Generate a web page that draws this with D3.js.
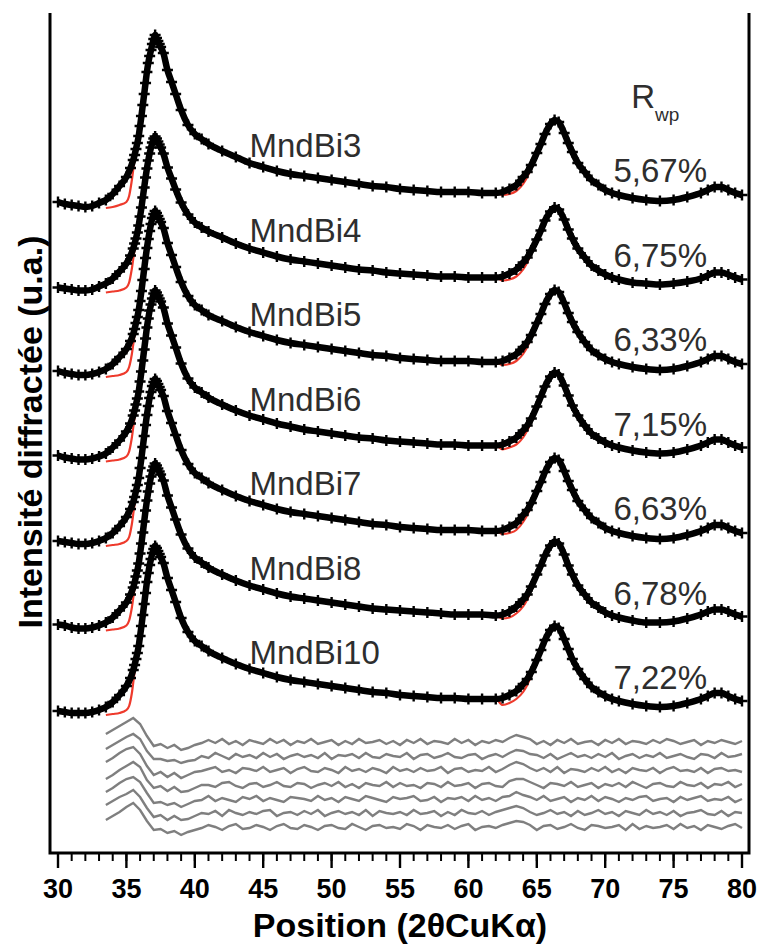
<!DOCTYPE html>
<html><head><meta charset="utf-8">
<script src="https://cdn.jsdelivr.net/npm/d3@7"></script>
<style>html,body{margin:0;padding:0;background:#fff;} svg{display:block;}</style>
</head><body>
<svg id="chart" width="760" height="944"></svg>
<script>
// ---------- DATA ----------
const seriesNames = ["MndBi3","MndBi4","MndBi5","MndBi6","MndBi7","MndBi8","MndBi10"];
const rwpLabels = ["5,67%","6,75%","6,33%","7,15%","6,63%","6,78%","7,22%"];
const xTicks = [30,35,40,45,50,55,60,65,70,75,80];
const xMinorTicks = d3.range(30, 81, 1);

// 2theta positions of the observed points
const angles = [30,30.5,31,31.5,32,32.5,33,33.5,
  34,34.5,35,35.3,35.5,
  35.6,35.7,35.8,35.9,36,36.1,36.2,36.3,36.4,36.5,36.6,36.7,36.8,36.9,37,37.1,37.2,37.3,37.4,37.5,
  37.7,38,38.3,38.6,39,39.5,40,40.5,
  41,42,43,44,45,46,47,48,49,50,51,52,53,54,55,56,57,58,59,60,61,62,
  62.5,63,63.5,64,
  64.3,64.6,65,65.3,65.6,66,66.3,66.6,67,67.3,67.6,68,
  68.5,69,69.5,70,70.5,71,
  72,73,74,75,76,77,
  77.5,78,78.5,79,79.5,80];

// observed intensities (a.u., relative to each pattern's own offset)
const obsMndBi3 = [8,6,5,4,3,4,7,10,
  16,24,33,42,50,
  55,61,67,74,84,94,105,116,127,138,147,154,160,166,171,175,172,169,166,163,
  157,140,128,116,100,85,76,71,
  66,59,53,47,43,39,36,34,32,30,28,26,24,23,21,20,19,18,18,18,17,17,
  18,21,25,33,
  38,45,57,66,76,86,90,88,77,67,58,47,
  38,30,25,20,17,15,
  12,10,9,10,13,17,
  20,23,23,20,17,15];
const obsMndBi4 = [7,6,5,4,4,5,8,11,
  16,23,31,39,46,
  51,56,62,69,78,87,97,107,117,126,134,141,147,152,156,158,156,153,150,147,
  141,127,116,105,92,80,72,67,
  63,57,51,46,42,38,35,33,31,29,27,25,24,22,21,20,19,18,18,17,17,17,
  18,21,25,32,
  37,44,55,64,74,83,87,85,75,65,56,46,
  37,29,24,20,17,15,
  12,11,10,11,13,16,
  19,22,22,20,17,15];
const obsMndBi5 = [8,6,5,4,4,5,7,10,
  15,22,30,38,45,
  50,56,62,69,78,88,99,110,121,131,140,148,155,161,165,168,166,163,160,157,
  151,136,124,112,97,83,74,69,
  64,58,52,47,43,39,36,34,32,30,28,26,24,23,21,20,19,18,18,18,17,17,
  18,21,25,32,
  37,44,56,65,75,85,89,87,76,66,57,47,
  37,29,24,20,17,15,
  12,10,9,10,13,17,
  20,23,23,20,17,15];
const obsMndBi6 = [8,6,5,4,4,5,7,10,
  16,23,32,40,48,
  53,59,65,72,82,92,103,114,125,136,145,153,159,165,170,173,171,168,165,162,
  156,140,128,116,100,85,76,71,
  66,59,53,48,44,40,37,34,32,30,28,26,25,23,22,21,20,19,19,18,18,18,
  19,22,26,33,
  38,45,57,67,77,87,91,89,78,68,58,48,
  38,30,25,21,18,16,
  13,11,10,11,14,18,
  21,24,24,21,18,16];
const obsMndBi7 = [7,6,5,4,4,5,7,10,
  15,22,31,39,46,
  51,57,63,70,80,90,101,112,123,133,142,150,156,162,166,169,167,164,161,158,
  152,137,125,113,98,84,75,70,
  65,58,52,47,43,39,36,34,32,30,28,26,24,23,21,20,19,18,18,18,17,17,
  18,21,25,33,
  38,45,57,66,76,86,90,88,77,67,58,47,
  38,30,25,20,17,15,
  12,10,9,10,13,17,
  20,23,23,20,17,15];
const obsMndBi8 = [8,7,5,4,4,5,7,10,
  15,22,30,38,45,
  50,56,62,69,79,89,100,111,122,132,141,149,156,162,166,169,167,164,161,158,
  152,137,125,113,98,84,75,70,
  65,58,52,47,43,39,36,34,32,30,28,26,24,23,22,21,20,19,18,18,18,17,
  18,21,26,33,
  38,46,58,67,77,87,91,89,78,67,58,47,
  38,30,25,20,17,15,
  12,10,10,11,14,18,
  21,23,23,21,18,16];
const obsMndBi10 = [6,5,4,4,4,5,7,10,
  15,22,31,39,47,
  52,58,64,71,81,91,102,113,124,135,144,152,158,164,168,171,169,166,163,160,
  154,139,127,115,99,85,76,71,
  66,59,53,48,44,40,37,35,33,31,29,27,25,24,22,21,20,19,19,18,18,18,
  19,22,26,33,
  38,45,57,67,77,87,91,89,78,68,58,48,
  38,30,25,21,18,16,
  13,11,10,11,14,18,
  21,24,24,21,18,16];

// vertical offsets of the stacked patterns
const offsets = [643, 558.5, 474, 389.5, 305, 220.5, 136];

// calculated profile where it departs from the observed one
const calcFootAngles = [33.5,34,34.5,35,35.2,35.4,35.6,35.8,36,36.2,36.4];
const calcFoot = [
  [2,3,5,8,14,30,50,61,76,97,120],
  [2,3,4,7,12,26,45,56,70,89,110],
  [2,3,4,7,12,25,44,56,71,92,114],
  [2,3,4,7,12,26,46,59,75,95,118],
  [2,3,4,7,11,24,44,57,72,93,116],
  [2,3,4,7,12,25,44,56,71,92,115],
  [2,3,4,7,11,24,45,58,73,94,117]];
const calcMidAngles = [62.5,63,63.5,64,64.3,64.6];
const calcMid = [
  [15,16,19,26,33,42],
  [14,15,18,25,32,41],
  [14,15,18,25,32,41],
  [14,16,19,26,33,42],
  [14,15,18,26,33,42],
  [14,15,19,26,33,43],
  [12,14,18,25,32,42]];

// difference curves (obs - calc), 33.5..80 every 0.5 degree
const diffAngles = d3.range(33.5, 80.001, 0.5);
const diffOffsets = [111, 97, 83, 68, 54, 40, 26];
const diffs = [
 [8,12,16,20,24,18,6,-4,-2,-6,-3,-8,-6,-3,-1,
  2,-1,3,-2,1,-3,2,0,-2,3,-1,2,-3,1,-1,3,-2,0,2,-3,1,-2,3,-1,0,2,-2,1,-3,2,-1,3,-2,1,0,-2,3,-1,2,-3,1,-1,2,0,
  4,7,5,3,
  -2,1,-3,2,-1,3,-2,0,1,-3,2,-1,3,-2,1,0,-2,2,-1,3,1,-2,0,2,-3,1,-1,2,0,-2,1],
 [7,11,15,19,22,17,5,-3,-3,-5,-4,-7,-5,-4,0,
  -2,3,0,-3,2,-1,1,-2,3,-1,2,-3,0,2,-1,1,-2,3,-3,1,0,2,-2,3,-1,-2,2,0,-1,3,-3,1,2,-2,0,3,-1,-2,1,2,-3,0,2,-1,
  3,6,5,2,
  1,-2,2,-3,0,3,-1,1,-2,2,-1,3,-3,0,2,-2,1,-1,3,-2,0,2,-1,-3,2,1,-2,3,-1,0,2],
 [8,12,17,21,23,16,4,-5,-2,-7,-3,-8,-5,-2,-1,
  1,3,-2,0,-3,2,1,-1,3,-2,0,2,-3,1,3,-1,-2,2,0,-3,3,-1,1,-2,2,0,-3,3,-1,1,-2,2,-1,0,3,-3,1,2,-2,0,-1,3,-2,1,
  5,8,6,2,
  -1,2,-2,3,-3,1,0,-2,2,-1,3,-2,1,-3,2,0,-1,2,-3,1,3,-1,0,-2,2,-3,1,2,-1,0,-2],
 [6,10,15,19,23,18,5,-3,-1,-6,-2,-7,-6,-3,0,
  0,-2,2,3,-1,-3,1,2,-2,0,3,-1,-2,2,1,-3,0,2,-1,3,-2,1,-3,2,0,-1,3,-2,2,-1,0,-3,2,1,-2,3,-1,0,2,-3,1,2,-1,-2,
  4,6,6,3,
  0,-3,2,1,-1,3,-2,0,2,-3,1,-1,2,-2,3,0,-3,1,2,-1,-2,3,0,-1,2,-3,1,0,3,-2,1],
 [7,11,16,20,22,17,6,-4,-3,-6,-4,-8,-5,-2,-1,
  3,-2,1,-1,-3,2,0,3,-2,1,-1,-3,2,1,0,-2,3,-1,1,-3,2,0,-2,3,1,-1,-3,2,0,1,3,-2,-1,2,-3,1,0,2,-2,3,-1,1,-2,2,
  3,7,4,2,
  -1,3,-2,0,2,-3,1,-1,3,-2,2,0,-3,1,-1,2,3,-2,0,1,-3,2,-1,1,3,-2,0,-1,2,-3,0],
 [8,12,16,19,23,16,5,-4,-2,-7,-3,-7,-6,-3,0,
  -1,2,-3,3,0,-2,1,-1,2,3,-3,0,1,-2,2,-1,3,-3,0,2,-1,1,-2,3,-3,2,0,-1,1,-2,3,-1,0,2,-3,1,-2,3,0,-1,2,-2,1,3,
  5,7,5,1,
  -2,0,3,-1,1,-3,2,-2,0,3,-1,1,-3,2,0,-2,3,-1,1,-2,2,-3,0,1,3,-1,-2,2,-3,1,0],
 [7,11,15,20,24,17,6,-3,-2,-6,-4,-8,-5,-3,-1,
  2,0,-3,1,3,-2,-1,2,0,-3,1,3,-1,-2,2,0,-3,1,2,-1,-2,3,0,-3,1,2,-1,0,-2,3,1,-3,2,0,-1,2,-2,1,3,-3,0,1,-1,2,
  4,6,5,2,
  -3,1,2,-2,0,3,-1,-3,2,1,-1,0,2,-3,3,-2,1,-1,0,2,-2,3,-1,1,-3,2,0,-2,1,3,-1]];

const observed = [obsMndBi3, obsMndBi4, obsMndBi5, obsMndBi6, obsMndBi7, obsMndBi8, obsMndBi10];

// ---------- CHART ----------
const svg = d3.select("#chart");
const frame = {left: 50, right: 749, top: 13, bottom: 853};
const x = d3.scaleLinear().domain([30, 80]).range([58, 742]);
const y = d3.scaleLinear().domain([0, 840]).range([853, 13]);
const FONT = "'Liberation Sans', Arial, Helvetica, sans-serif";
const textColor = "#2e2e2e";

// difference curves
const diffLine = d3.line().x(d => x(d[0])).y(d => y(d[1])).curve(d3.curveLinear);
diffs.forEach((arr, i) => {
  const pts = arr.map((v, j) => [diffAngles[j], v + diffOffsets[i]]);
  svg.append("path").attr("d", diffLine(pts))
    .attr("fill", "none").attr("stroke", "#7f7f7f").attr("stroke-width", 2.4)
    .attr("stroke-linejoin", "miter");
});

const calcLine = d3.line().x(d => x(d[0])).y(d => y(d[1])).curve(d3.curveMonotoneX);
const obsLine = d3.line().x(d => x(d[0])).y(d => y(d[1])).curve(d3.curveMonotoneX);

observed.forEach((obs, i) => {
  const off = offsets[i];
  const obsPts = angles.map((a, j) => [a, obs[j] + off]);
  // calculated profile
  const calcPts = [];
  calcFootAngles.forEach((a, j) => calcPts.push([a, calcFoot[i][j] + off]));
  angles.forEach((a, j) => {
    if (a > 36.4 && a < 62.5) calcPts.push([a, obs[j] + off]);
  });
  calcMidAngles.forEach((a, j) => calcPts.push([a, calcMid[i][j] + off]));
  angles.forEach((a, j) => {
    if (a > 64.6) calcPts.push([a, obs[j] + off]);
  });

  const g = svg.append("g");
  g.append("path").attr("d", obsLine(obsPts))
    .attr("fill", "none").attr("stroke", "#000").attr("stroke-width", 6.5)
    .attr("stroke-linejoin", "round");
  g.selectAll("path.cross").data(obsPts).join("path")
    .attr("class", "cross")
    .attr("transform", d => `translate(${x(d[0])},${y(d[1])})`)
    .attr("d", "M-5.5,0H5.5M0,-5.5V5.5")
    .attr("stroke", "#000").attr("stroke-width", 2.4);

  svg.append("path").attr("d", calcLine(calcPts))
    .attr("fill", "none").attr("stroke", "#ee3a2c").attr("stroke-width", 2.2)
    .lower();

  // labels
  svg.append("text").attr("x", x(44)).attr("y", y(off + 53))
    .attr("font-family", FONT).attr("font-size", 33).attr("fill", textColor)
    .text(seriesNames[i]);
  svg.append("text").attr("x", x(70.6)).attr("y", y(off + 28))
    .attr("font-family", FONT).attr("font-size", 33).attr("fill", textColor)
    .text(rwpLabels[i]);
});

// Rwp header
const rt = svg.append("text").attr("x", x(71.9)).attr("y", 108)
  .attr("font-family", FONT).attr("font-size", 33).attr("fill", textColor);
rt.append("tspan").text("R");
rt.append("tspan").attr("font-size", 19).attr("dy", 13).text("wp");

// frame
svg.append("path")
  .attr("d", `M${frame.left},${frame.top}V${frame.bottom}H${frame.right}V${frame.top}`)
  .attr("fill", "none").attr("stroke", "#000").attr("stroke-width", 3);

// x axis ticks
const axisG = svg.append("g");
axisG.selectAll("line.minor").data(xMinorTicks).join("line")
  .attr("x1", d => x(d)).attr("x2", d => x(d))
  .attr("y1", frame.bottom).attr("y2", frame.bottom + 8)
  .attr("stroke", "#000").attr("stroke-width", 2);
axisG.selectAll("line.major").data(xTicks).join("line")
  .attr("x1", d => x(d)).attr("x2", d => x(d))
  .attr("y1", frame.bottom).attr("y2", frame.bottom + 15)
  .attr("stroke", "#000").attr("stroke-width", 2.4);
axisG.selectAll("text").data(xTicks).join("text")
  .attr("x", d => x(d)).attr("y", 898)
  .attr("text-anchor", "middle")
  .attr("font-family", FONT).attr("font-weight", "bold").attr("font-size", 27)
  .attr("fill", "#000").text(d => d);

// axis titles
svg.append("text").attr("x", 400).attr("y", 937)
  .attr("text-anchor", "middle")
  .attr("font-family", FONT).attr("font-weight", "bold").attr("font-size", 34)
  .attr("fill", "#000").text("Position (2θCuKα)");
svg.append("text")
  .attr("transform", "translate(42,432) rotate(-90)")
  .attr("text-anchor", "middle")
  .attr("font-family", FONT).attr("font-weight", "bold").attr("font-size", 34)
  .attr("fill", "#000").text("Intensité diffractée (u.a.)");
</script>
</body></html>
